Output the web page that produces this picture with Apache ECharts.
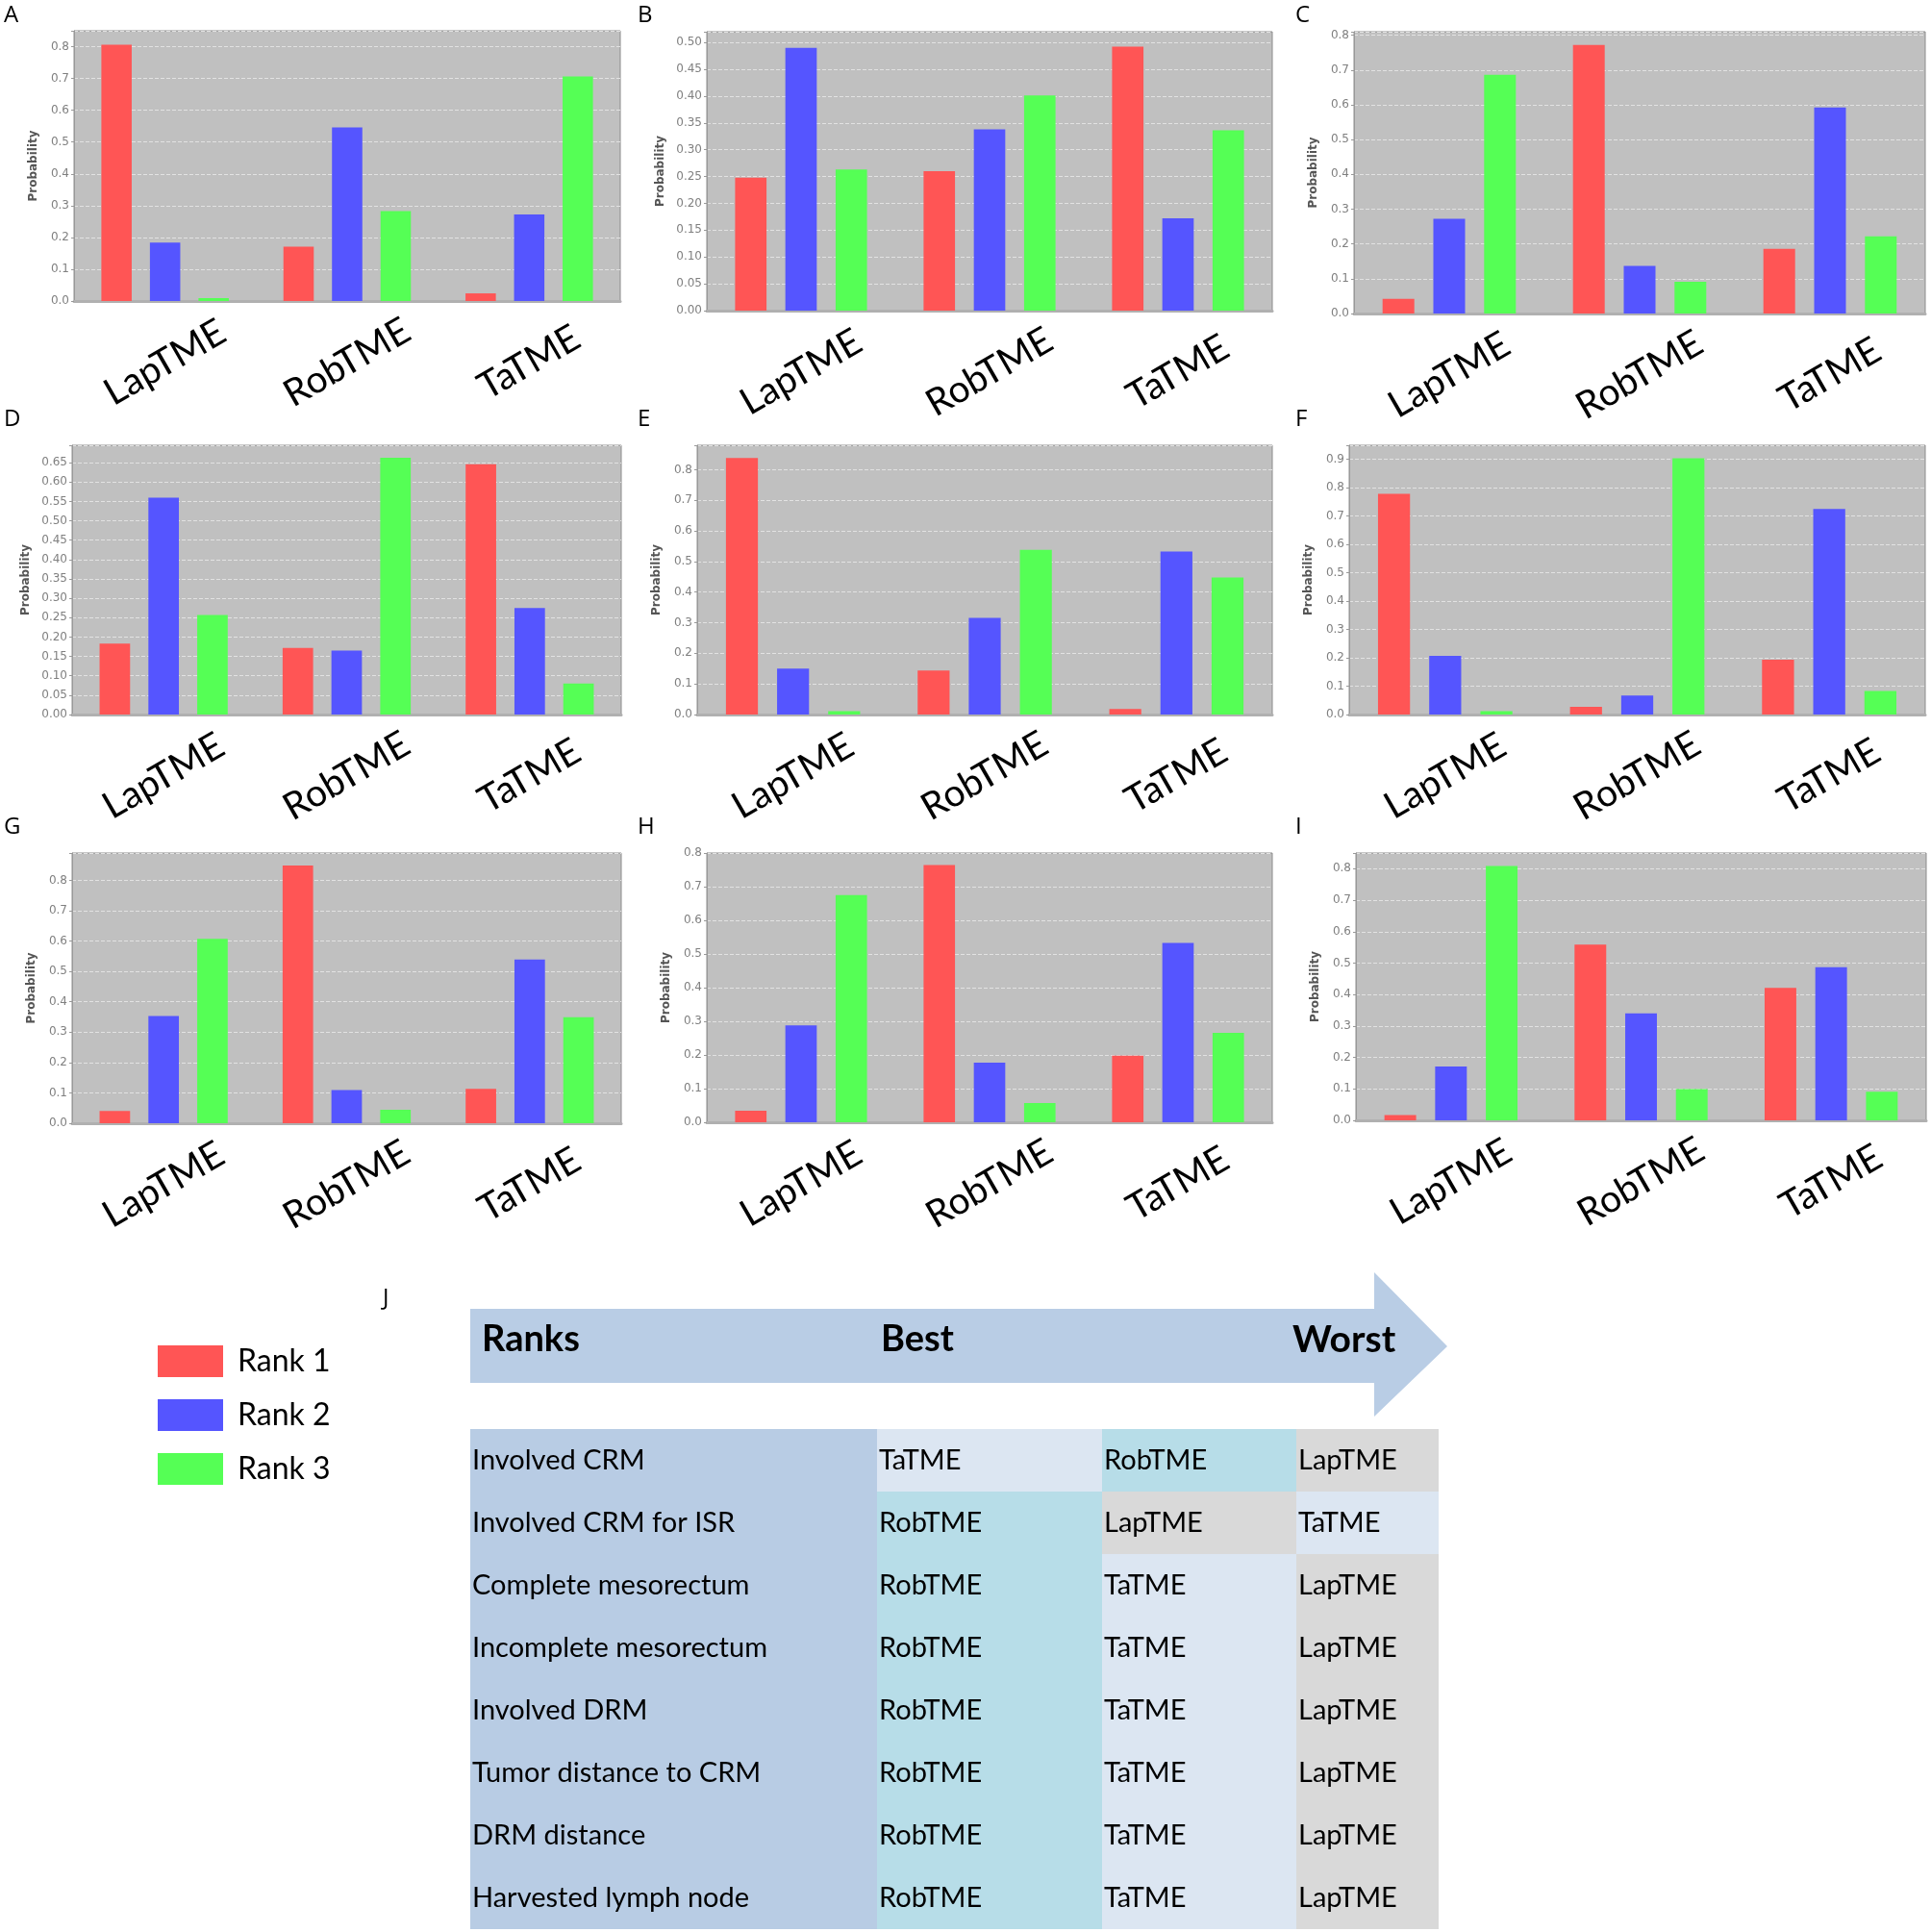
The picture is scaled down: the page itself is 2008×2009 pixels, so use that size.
<!DOCTYPE html>
<html>
<head>
<meta charset="utf-8">
<script src="https://cdn.jsdelivr.net/npm/echarts@6/dist/echarts.min.js"></script>
<style>
html, body { margin: 0; padding: 0; background: #fff; }
#main { width: 2008px; height: 2009px; }
</style>
</head>
<body>
<div id="main"></div>
<script>
// categories and series names
var methods = ['LapTME', 'RobTME', 'TaTME'];
var rankNames = ['Rank 1', 'Rank 2', 'Rank 3'];
var panelLetters = ['A', 'B', 'C', 'D', 'E', 'F', 'G', 'H', 'I'];

// probabilities per panel: [rank1, rank2, rank3], each over methods
var probA = [[0.806, 0.171, 0.024], [0.184, 0.546, 0.272], [0.009, 0.283, 0.706]];
var probB = [[0.248, 0.260, 0.492], [0.490, 0.338, 0.172], [0.263, 0.401, 0.336]];
var probC = [[0.042, 0.772, 0.186], [0.272, 0.137, 0.592], [0.686, 0.091, 0.222]];
var probD = [[0.183, 0.172, 0.646], [0.560, 0.165, 0.275], [0.257, 0.663, 0.080]];
var probE = [[0.838, 0.144, 0.018], [0.150, 0.316, 0.533], [0.011, 0.538, 0.448]];
var probF = [[0.779, 0.027, 0.193], [0.207, 0.067, 0.725], [0.012, 0.904, 0.083]];
var probG = [[0.040, 0.849, 0.113], [0.353, 0.109, 0.539], [0.607, 0.044, 0.349]];
var probH = [[0.034, 0.764, 0.198], [0.288, 0.177, 0.533], [0.675, 0.057, 0.266]];
var probI = [[0.017, 0.559, 0.421], [0.171, 0.340, 0.487], [0.809, 0.099, 0.091]];
var panels = [probA, probB, probC, probD, probE, probF, probG, probH, probI];

// y axis extent and tick step per panel
var yMax = [0.85, 0.52, 0.81, 0.695, 0.88, 0.95, 0.89, 0.80, 0.85];
var yStep = [0.1, 0.05, 0.1, 0.05, 0.1, 0.1, 0.1, 0.1, 0.1];

// ranking table (J)
var criteria = ['Involved CRM', 'Involved CRM for ISR', 'Complete mesorectum', 'Incomplete mesorectum',
    'Involved DRM', 'Tumor distance to CRM', 'DRM distance', 'Harvested lymph node'];
var rankBest = ['TaTME', 'RobTME', 'RobTME', 'RobTME', 'RobTME', 'RobTME', 'RobTME', 'RobTME'];
var rankMiddle = ['RobTME', 'LapTME', 'TaTME', 'TaTME', 'TaTME', 'TaTME', 'TaTME', 'TaTME'];
var rankWorst = ['LapTME', 'TaTME', 'LapTME', 'LapTME', 'LapTME', 'LapTME', 'LapTME', 'LapTME'];

// ---- layout / style ----
var barColors = ['#FF5555', '#5555FF', '#55FF55'];
var cellColors = { label: '#B8CCE4', RobTME: '#B7DDE8', TaTME: '#DCE6F2', LapTME: '#D9D9D9' };
// plot boxes: [left, top, right, bottom]
var boxes = [
    [77, 32, 645, 313], [735, 33, 1323, 323], [1408, 33, 2002, 326],
    [75, 463, 646, 743], [725, 463, 1323, 743], [1403, 463, 2002, 743],
    [75, 887, 646, 1168], [735, 887, 1323, 1167], [1410, 887, 2003, 1165]
];
var letterPos = [[4, 4], [663, 4], [1347, 4], [4, 424], [663, 424], [1347, 424], [4, 848], [663, 848], [1347, 848]];
// table column edges in px from table left
var colEdges = [0, 423, 657, 859, 1007];
var tableBox = [489, 1486, 1007, 520];

var chart = echarts.init(document.getElementById('main'));

var grid = [], xAxis = [], yAxis = [], series = [];

panels.forEach(function (probs, p) {
    var b = boxes[p];
    var step = yStep[p];
    var dec = step < 0.1 ? 2 : 1;
    grid.push({
        left: b[0], top: b[1], width: b[2] - b[0], height: b[3] - b[1],
        show: true, backgroundColor: '#C0C0C0', borderColor: '#8C8C8C', borderWidth: 1
    });
    xAxis.push({
        type: 'category', gridIndex: p, data: methods, offset: 4,
        axisLine: { lineStyle: { color: '#B0B0B0', width: 3 } },
        axisTick: { alignWithLabel: true, length: 4, lineStyle: { color: '#999' } },
        axisLabel: {
            rotate: 30, align: 'center', verticalAlign: 'middle', margin: 60,
            fontFamily: 'Lato', fontSize: 39, color: '#000'
        }
    });
    yAxis.push({
        type: 'value', gridIndex: p, min: 0, max: yMax[p], interval: step,
        name: 'Probability', nameLocation: 'middle', nameGap: dec === 2 ? 42 : 36,
        nameTextStyle: { fontFamily: 'DejaVu Sans', fontSize: 12, fontWeight: 'bold', color: '#555' },
        axisLine: { show: true, lineStyle: { color: '#999' } },
        axisTick: { show: true, length: 3, lineStyle: { color: '#999' } },
        axisLabel: {
            fontFamily: 'DejaVu Sans', fontSize: 12, color: '#808080', margin: 5,
            formatter: function (v) {
                var k = v / step;
                return Math.abs(k - Math.round(k)) < 1e-6 ? v.toFixed(dec) : '';
            }
        },
        splitLine: { show: true, lineStyle: { color: '#E2E2E2', type: 'dashed', width: 1 } }
    });
    probs.forEach(function (vals, r) {
        series.push({
            type: 'bar', name: rankNames[r], xAxisIndex: p, yAxisIndex: p,
            data: vals, barGap: '60%', barCategoryGap: '30%',
            itemStyle: { color: barColors[r] }
        });
    });
});

// table grid
grid.push({ left: tableBox[0], top: tableBox[1], width: tableBox[2], height: tableBox[3] });
xAxis.push({ type: 'value', gridIndex: 9, min: 0, max: colEdges[colEdges.length - 1], show: false });
yAxis.push({ type: 'category', gridIndex: 9, data: criteria, inverse: true, show: false });

var tableCols = [criteria, rankBest, rankMiddle, rankWorst];
var tableData = [];
criteria.forEach(function (c, row) {
    for (var col = 0; col < 4; col++) tableData.push([col, row]);
});

series.push({
    type: 'custom', xAxisIndex: 9, yAxisIndex: 9, data: tableData, silent: true,
    renderItem: function (params, api) {
        var col = api.value(0), row = api.value(1);
        var a = api.coord([colEdges[col], row]);
        var b = api.coord([colEdges[col + 1], row]);
        var h = api.size([0, 1])[1];
        var txt = tableCols[col][row];
        var fill = col === 0 ? cellColors.label : cellColors[txt];
        return {
            type: 'group',
            children: [
                { type: 'rect', shape: { x: a[0], y: a[1] - h / 2, width: b[0] - a[0], height: h }, style: { fill: fill } },
                { type: 'text', style: { text: txt, x: a[0] + 2, y: a[1], verticalAlign: 'middle', font: '29px Lato', fill: '#000' } }
            ]
        };
    }
});

// panel letters, arrow, header text
var graphic = panelLetters.map(function (l, i) {
    return { type: 'text', left: letterPos[i][0], top: letterPos[i][1], style: { text: l, font: '24px "Open Sans"', fill: '#000' } };
});
graphic.push({ type: 'text', left: 398, top: 1338, style: { text: 'J', font: '24px "Open Sans"', fill: '#000' } });
graphic.push({
    type: 'polygon', z: -1,
    shape: { points: [[489, 1361], [1429, 1361], [1429, 1323], [1505, 1400], [1429, 1473], [1429, 1438], [489, 1438]] },
    style: { fill: '#B9CDE5' }
});
graphic.push({ type: 'text', left: 501, top: 1374, style: { text: 'Ranks', font: 'bold 38px Lato', fill: '#000' } });
graphic.push({ type: 'text', left: 916, top: 1374, style: { text: 'Best', font: 'bold 38px Lato', fill: '#000' } });
graphic.push({ type: 'text', left: 1344, top: 1374, style: { text: 'Worst', font: 'bold 39px Lato', fill: '#000' } });

var option = {
    animation: false,
    backgroundColor: '#fff',
    legend: {
        data: rankNames, orient: 'vertical', left: 159, top: 1394,
        itemWidth: 68, itemHeight: 33, itemGap: 23, icon: 'rect',
        selectedMode: false,
        textStyle: { fontFamily: 'Lato', fontSize: 32, color: '#000', padding: [0, 0, 0, 10] }
    },
    grid: grid,
    xAxis: xAxis,
    yAxis: yAxis,
    series: series,
    graphic: graphic
};

chart.setOption(option);
</script>
</body>
</html>
